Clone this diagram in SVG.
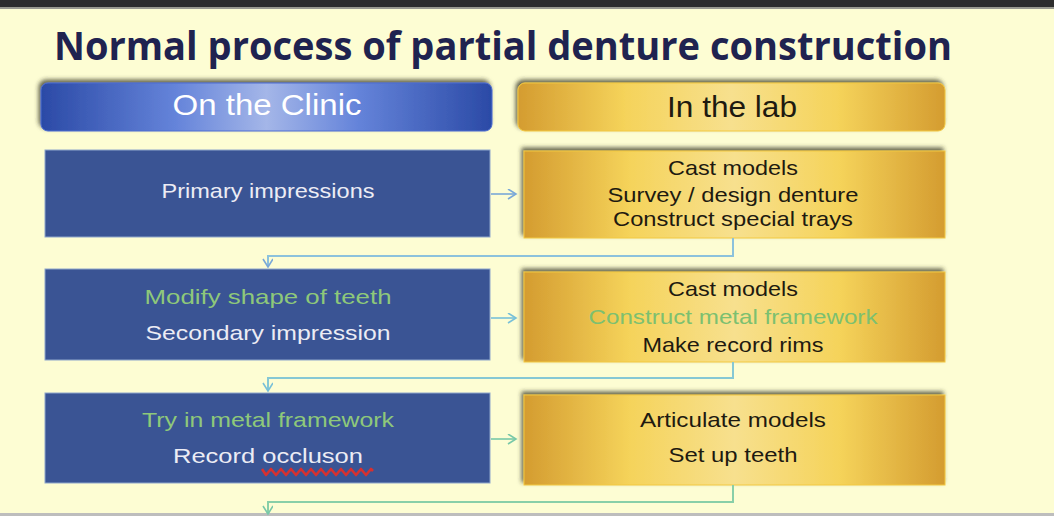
<svg xmlns="http://www.w3.org/2000/svg" width="1054" height="516" viewBox="0 0 1054 516">
<style>
.t{font-family:"Liberation Sans",Arial,sans-serif;text-anchor:middle}
.bw{fill:#ececf4;font-size:21px}
.bg{fill:#8ec87a;font-size:21px}
.gk{fill:#1e1a10;font-size:21px}
.gg{fill:#7cc070;font-size:21px}
.lb{fill:#3a5494;stroke:#8ea6cc;stroke-width:1}
.gb{fill:url(#gold);stroke:#f2c840;stroke-width:1}
.c1{fill:none;stroke:#8cc2dc;stroke-width:2}
.c2{fill:none;stroke:#86c8d4;stroke-width:2}
.c3{fill:none;stroke:#88cfa8;stroke-width:2}
</style>
<defs>
<linearGradient id="blue" x1="0" y1="0" x2="1" y2="0">
<stop offset="0" stop-color="#2b4aa6"/>
<stop offset="0.3" stop-color="#6584da"/>
<stop offset="0.5" stop-color="#a4b6e8"/>
<stop offset="0.7" stop-color="#6584da"/>
<stop offset="1" stop-color="#2b4aa6"/>
</linearGradient>
<linearGradient id="gold" x1="0" y1="0" x2="1" y2="0">
<stop offset="0" stop-color="#d49c30"/>
<stop offset="0.25" stop-color="#f5d35a"/>
<stop offset="0.5" stop-color="#f7e08e"/>
<stop offset="0.75" stop-color="#f5d35a"/>
<stop offset="1" stop-color="#d49c30"/>
</linearGradient>
<filter id="sh" x="-5%" y="-20%" width="110%" height="140%">
<feDropShadow dx="-2" dy="-3" stdDeviation="2" flood-color="#303020" flood-opacity="0.75"/>
</filter>
<marker id="a1" markerWidth="12" markerHeight="12" refX="9" refY="5" orient="auto" markerUnits="userSpaceOnUse"><path d="M1,0 L9,5 L1,10" fill="none" stroke="#7aa8d8" stroke-width="1.6"/></marker>
<marker id="a2" markerWidth="12" markerHeight="12" refX="9" refY="5" orient="auto" markerUnits="userSpaceOnUse"><path d="M1,0 L9,5 L1,10" fill="none" stroke="#78c0d8" stroke-width="1.6"/></marker>
<marker id="a3" markerWidth="12" markerHeight="12" refX="9" refY="5" orient="auto" markerUnits="userSpaceOnUse"><path d="M1,0 L9,5 L1,10" fill="none" stroke="#78c8a8" stroke-width="1.6"/></marker>
</defs>
<rect x="0" y="0" width="1054" height="516" fill="#fdfdd3"/>
<rect x="0" y="0" width="1054" height="7" fill="#2d2d2d"/>
<rect x="0" y="7" width="1054" height="2" fill="#9a9a90"/>
<rect x="0" y="513" width="1054" height="3" fill="#bdbdbd"/>
<text x="503" y="60" font-family="'Open Sans','Liberation Sans',sans-serif" font-weight="bold" font-size="39" fill="#1f2350" text-anchor="middle" textLength="898" lengthAdjust="spacingAndGlyphs">Normal process of partial denture construction</text>

<g id="hdr-clinic">
<rect x="41" y="83" width="451" height="48" rx="7" fill="url(#blue)" stroke="#4c6cd2" stroke-width="1" filter="url(#sh)"/>
<text class="t" x="267" y="115" font-size="29" fill="#ffffff" textLength="189" lengthAdjust="spacingAndGlyphs">On the Clinic</text>
</g>
<g id="hdr-lab">
<rect x="518" y="83" width="427" height="48" rx="7" fill="url(#gold)" stroke="#f2c840" stroke-width="1" filter="url(#sh)"/>
<text class="t" x="732" y="117" font-size="29" fill="#1e1a10" textLength="130" lengthAdjust="spacingAndGlyphs">In the lab</text>
</g>

<g id="clinic1">
<rect class="lb" x="45" y="150" width="445" height="87"/>
<text class="t bw" x="268" y="198" textLength="213" lengthAdjust="spacingAndGlyphs">Primary impressions</text>
</g>
<g id="lab1">
<rect class="gb" x="524" y="151" width="421" height="87" filter="url(#sh)"/>
<text class="t gk" x="733" y="175" textLength="130" lengthAdjust="spacingAndGlyphs">Cast models</text>
<text class="t gk" x="733" y="202" textLength="251" lengthAdjust="spacingAndGlyphs">Survey / design denture</text>
<text class="t gk" x="733" y="226" textLength="240" lengthAdjust="spacingAndGlyphs">Construct special trays</text>
</g>

<g id="clinic2">
<rect class="lb" x="45" y="269" width="445" height="91"/>
<text class="t bg" x="268" y="304" textLength="247" lengthAdjust="spacingAndGlyphs">Modify shape of teeth</text>
<text class="t bw" x="268" y="340" textLength="245" lengthAdjust="spacingAndGlyphs">Secondary impression</text>
</g>
<g id="lab2">
<rect class="gb" x="524" y="272" width="421" height="90" filter="url(#sh)"/>
<text class="t gk" x="733" y="296" textLength="130" lengthAdjust="spacingAndGlyphs">Cast models</text>
<text class="t gg" x="733" y="324" textLength="289" lengthAdjust="spacingAndGlyphs">Construct metal framework</text>
<text class="t gk" x="733" y="352" textLength="181" lengthAdjust="spacingAndGlyphs">Make record rims</text>
</g>

<g id="clinic3">
<rect class="lb" x="45" y="393" width="445" height="90"/>
<text class="t bg" x="268" y="427" textLength="252" lengthAdjust="spacingAndGlyphs">Try in metal framework</text>
<text class="t bw" x="268" y="463" textLength="190" lengthAdjust="spacingAndGlyphs">Record occluson</text>
<polyline points="262,469 266,475 271,469 276,475 281,469 286,475 291,469 296,475 301,469 306,475 311,469 316,475 321,469 326,475 331,469 336,475 341,469 346,475 351,469 356,475 361,469 366,475 371,469 373,471" fill="none" stroke="#d63030" stroke-width="2.6" stroke-linejoin="round"/>
</g>
<g id="lab3">
<rect class="gb" x="524" y="395" width="421" height="90" filter="url(#sh)"/>
<text class="t gk" x="733" y="427" textLength="186" lengthAdjust="spacingAndGlyphs">Articulate models</text>
<text class="t gk" x="733" y="462" textLength="129" lengthAdjust="spacingAndGlyphs">Set up teeth</text>
</g>

<g id="connectors">
<line x1="491" y1="194" x2="516" y2="194" stroke="#7aa8d8" stroke-width="1.6" marker-end="url(#a1)"/>
<line x1="491" y1="318" x2="516" y2="318" stroke="#78c0d8" stroke-width="1.6" marker-end="url(#a2)"/>
<line x1="491" y1="439" x2="516" y2="439" stroke="#78c8a8" stroke-width="1.6" marker-end="url(#a3)"/>
<path class="c1" d="M733,238 V256 H268 V267" marker-end="url(#a1)"/>
<path class="c2" d="M733,362 V378 H268 V391" marker-end="url(#a2)"/>
<path class="c3" d="M733,485 V502 H268 V514" marker-end="url(#a3)"/>
</g>
</svg>
